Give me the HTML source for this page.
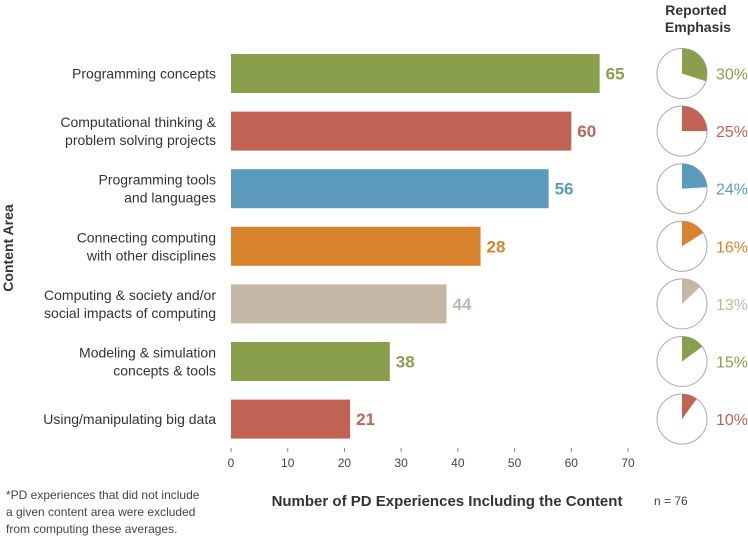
<!DOCTYPE html>
<html><head><meta charset="utf-8"><style>
body{margin:0;background:#fff;width:748px;height:538px;overflow:hidden;font-family:"Liberation Sans",sans-serif;}
svg text{font-family:"Liberation Sans",sans-serif;}
</style></head><body>
<svg id="chart" width="748" height="538" viewBox="0 0 748 538" xmlns="http://www.w3.org/2000/svg">
<text transform="translate(13,248) rotate(-90)" text-anchor="middle" font-size="14" font-weight="bold" fill="#333">Content Area</text>
<text x="447" y="506" text-anchor="middle" font-size="15" font-weight="bold" fill="#333">Number of PD Experiences Including the Content</text>
<text x="654" y="505" font-size="12" fill="#444">n = 76</text>
<text x="696" y="15" text-anchor="middle" font-size="14" font-weight="bold" fill="#333">Reported</text>
<text x="698" y="32" text-anchor="middle" font-size="14" font-weight="bold" fill="#333">Emphasis</text>
<g font-size="12" fill="#444">
<text x="6" y="499">*PD experiences that did not include</text>
<text x="6" y="516">a given content area were excluded</text>
<text x="6" y="533">from computing these averages.</text>
</g>
<g id="bars"></g><g id="axis"></g><g id="pies"></g>
</svg>
<script>
const categories=[["Programming concepts"],["Computational thinking &","problem solving projects"],["Programming tools","and languages"],["Connecting computing","with other disciplines"],["Computing & society and/or","social impacts of computing"],["Modeling & simulation","concepts & tools"],["Using/manipulating big data"]];
const barValues=[65,60,56,44,38,28,21];
const valueLabels=["65","60","56","28","44","38","21"];
const emphasis=[30,25,24,16,13,15,10];
const colors=["#8a9f4e","#c06355","#5b9aba","#d9822d","#c4b7a6","#8a9f4e","#c06355"];
const ticks=[0,10,20,30,40,50,60,70];
const NS="http://www.w3.org/2000/svg";
const x0=231,pxPer=(628-231)/70;
const xs=v=>x0+v*pxPer;
const yc=i=>73.5+i*57.6;
function mk(tag,attrs,parent){const e=document.createElementNS(NS,tag);for(const k in attrs)e.setAttribute(k,attrs[k]);parent.appendChild(e);return e;}
const gb=document.getElementById('bars'),ga=document.getElementById('axis'),gp=document.getElementById('pies');
categories.forEach((lines,i)=>{
  const c=yc(i);
  const r=mk('rect',{x:x0,y:c-19.5,width:xs(barValues[i])-x0,height:39,fill:colors[i]},gb);
  
  
  const v=mk('text',{x:xs(barValues[i])+6,y:c+6,'font-size':17,'font-weight':'bold',fill:colors[i]},gb);
  v.textContent=valueLabels[i];
  
  
  const startY=lines.length==1?c+5:c-4;
  lines.forEach((ln,j)=>{
    const t=mk('text',{x:216,y:startY+j*18,'text-anchor':'end','font-size':14,fill:'#333'},gb);
    t.textContent=ln;
    
    
  });
  const cx=682,R=25,p=emphasis[i]/100,a=p*2*Math.PI;
  const circ=mk('circle',{cx:cx,cy:c,r:R,fill:'#fff',stroke:'#aaa','stroke-width':1},gp);
  
  
  const ex=cx+R*Math.sin(a),ey=c-R*Math.cos(a);
  const sl=mk('path',{d:`M${cx},${c} L${cx},${c-R} A${R},${R} 0 ${p>0.5?1:0} 1 ${ex},${ey} Z`,fill:colors[i]},gp);
  
  
  const pt=mk('text',{x:716,y:c+6,'font-size':16,fill:colors[i]},gp);
  pt.textContent=emphasis[i]+'%';
  
  
});
ticks.forEach(t=>{
  const l=mk('line',{x1:xs(t),x2:xs(t),y1:448,y2:452,stroke:'#888','stroke-width':1},ga);
  
  
  const tx=mk('text',{x:xs(t),y:467,'text-anchor':'middle','font-size':12,fill:'#444'},ga);
  tx.textContent=t;
  
  
});
</script>
</body></html>
